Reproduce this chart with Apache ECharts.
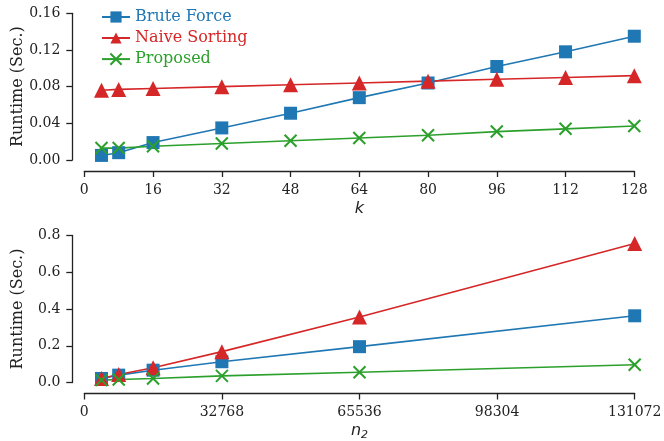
<!DOCTYPE html>
<html>
<head>
<meta charset="utf-8">
<script src="https://cdn.jsdelivr.net/npm/echarts@6/dist/echarts.min.js"></script>
<style>
  html, body { margin: 0; padding: 0; background: #fff; }
  #main { width: 664px; height: 441px; }
</style>
</head>
<body>
<div id="main"></div>
<script>
// top panel: runtime vs k
var kValues = [4, 8, 16, 32, 48, 64, 80, 96, 112, 128];
var bruteK = [0.005, 0.008, 0.019, 0.035, 0.051, 0.068, 0.084, 0.102, 0.118, 0.135];
var naiveK = [0.076, 0.077, 0.078, 0.080, 0.082, 0.084, 0.086, 0.088, 0.090, 0.092];
var propK = [0.013, 0.013, 0.015, 0.018, 0.021, 0.024, 0.027, 0.031, 0.034, 0.037];
var kTicks = [0, 16, 32, 48, 64, 80, 96, 112, 128];

// bottom panel: runtime vs n2
var nValues = [4096, 8192, 16384, 32768, 65536, 131072];
var bruteN = [0.022, 0.040, 0.067, 0.113, 0.195, 0.363];
var naiveN = [0.022, 0.044, 0.080, 0.168, 0.357, 0.757];
var propN = [0.013, 0.016, 0.022, 0.036, 0.056, 0.097];
var nTicks = [0, 32768, 65536, 98304, 131072];

var names = ['Brute Force', 'Naive Sorting', 'Proposed'];
var colors = ['#1f77b4', '#d62728', '#2ca02c'];
var serif = 'DejaVu Serif';
var axisColor = '#222';

var chart = echarts.init(document.getElementById('main'));

function pairs(xs, ys) {
    return xs.map(function (x, i) { return [x, ys[i]]; });
}

var crossPath = 'path://M0,0L10,10M10,0L0,10';

function makeSeries(idx, xs, ys, panel) {
    var s = {
        name: names[idx],
        type: 'line',
        xAxisIndex: panel,
        yAxisIndex: panel,
        data: pairs(xs, ys),
        clip: false,
        showAllSymbol: true,
        lineStyle: { color: colors[idx], width: 1.6 },
        itemStyle: { color: colors[idx] },
        animation: false
    };
    if (idx === 0) { s.symbol = 'rect'; s.symbolSize = 13; }
    if (idx === 1) { s.symbol = 'triangle'; s.symbolSize = 15; }
    if (idx === 2) {
        s.symbol = crossPath;
        s.symbolSize = 12;
        s.itemStyle = { color: 'none', borderColor: colors[idx], borderWidth: 2 };
    }
    return s;
}

function xAxisDef(panel, max, ticks, nameText, gap) {
    return {
        gridIndex: panel,
        type: 'value',
        min: 0,
        max: max,
        offset: 11,
        name: nameText,
        nameLocation: 'middle',
        nameGap: gap,
        nameTextStyle: {
            fontFamily: 'DejaVu Sans', fontStyle: 'italic', fontSize: 16, color: axisColor,
            rich: {
                i: { fontFamily: 'DejaVu Sans', fontStyle: 'italic', fontSize: 16, color: axisColor },
                s: { fontFamily: 'DejaVu Sans', fontSize: 11, color: axisColor, padding: [9, 0, 0, 0] }
            }
        },
        axisLine: { onZero: false, lineStyle: { color: axisColor, width: 1.3 } },
        axisTick: { length: 6, lineStyle: { color: axisColor, width: 1.3 }, customValues: ticks },
        axisLabel: {
            margin: 12, fontFamily: serif, fontSize: 14, color: axisColor, customValues: ticks,
            formatter: function (v) { return String(v); }
        },
        splitLine: { show: false }
    };
}

function yAxisDef(panel, max, interval, digits) {
    return {
        gridIndex: panel,
        type: 'value',
        min: 0,
        max: max,
        interval: interval,
        offset: 12,
        name: 'Runtime (Sec.)',
        nameLocation: 'middle',
        nameRotate: 90,
        nameGap: 46,
        nameMoveOverlap: false,
        nameTextStyle: { fontFamily: serif, fontSize: 16, color: axisColor },
        axisLine: { show: true, onZero: false, lineStyle: { color: axisColor, width: 1.3 } },
        axisTick: { show: true, length: 6, lineStyle: { color: axisColor, width: 1.3 } },
        axisLabel: {
            margin: 12, fontFamily: serif, fontSize: 14, color: axisColor,
            formatter: function (v) { return v.toFixed(digits); }
        },
        splitLine: { show: false }
    };
}

var series = [];
series.push(makeSeries(0, kValues, bruteK, 0));
series.push(makeSeries(1, kValues, naiveK, 0));
series.push(makeSeries(2, kValues, propK, 0));
series.push(makeSeries(0, nValues, bruteN, 1));
series.push(makeSeries(1, nValues, naiveN, 1));
series.push(makeSeries(2, nValues, propN, 1));

var option = {
    backgroundColor: '#fff',
    animation: false,
    grid: [
        { left: 84.3, width: 550, top: 13.3, height: 146.7, outerBoundsMode: 'none', containLabel: false },
        { left: 84.3, width: 550.4, top: 235.5, height: 147, outerBoundsMode: 'none', containLabel: false }
    ],
    legend: {
        orient: 'vertical',
        left: 96,
        top: 4,
        itemWidth: 28,
        itemHeight: 14,
        itemGap: 5,
        data: names.map(function (n, i) {
            return { name: n, textStyle: { color: colors[i] } };
        }),
        textStyle: { fontFamily: serif, fontSize: 16 }
    },
    xAxis: [
        xAxisDef(0, 128, kTicks, 'k', 30),
        xAxisDef(1, 131072, nTicks, '{i|n}{s|2}', 27)
    ],
    yAxis: [
        yAxisDef(0, 0.16, 0.04, 2),
        yAxisDef(1, 0.8, 0.2, 1)
    ],
    series: series
};

chart.setOption(option);
</script>
</body>
</html>
